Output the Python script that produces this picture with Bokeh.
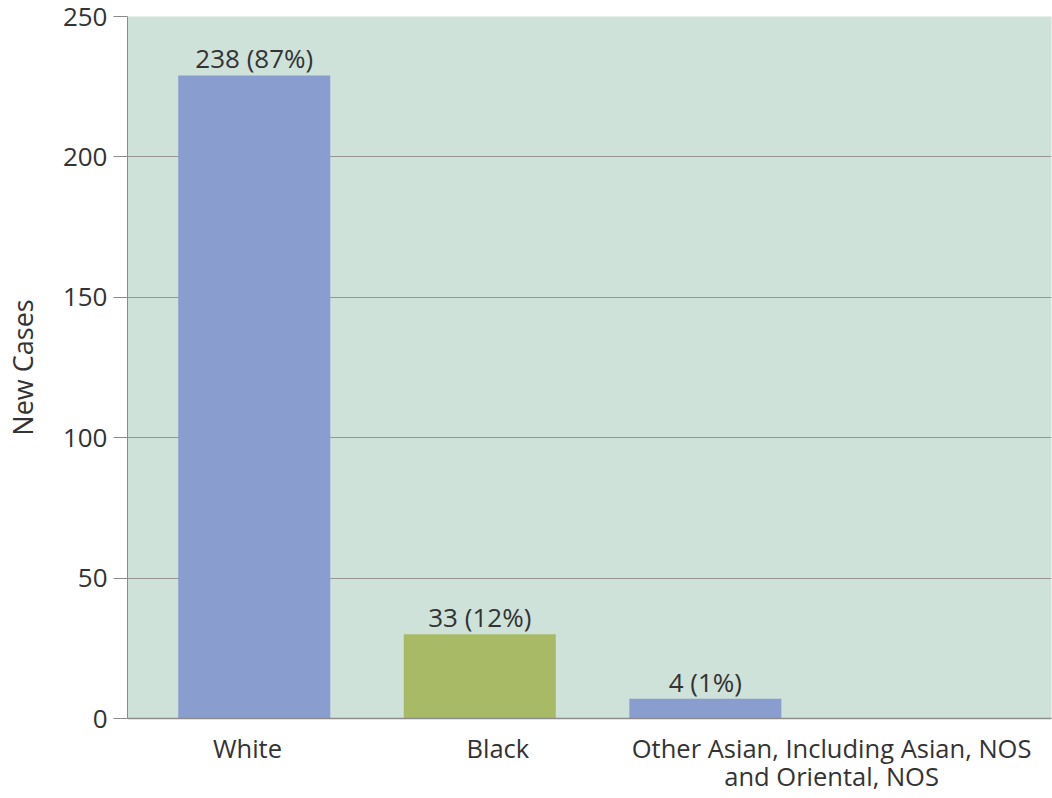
from bokeh.plotting import figure
from bokeh.models import (ColumnDataSource, Range1d, FixedTicker, CustomJSTickFormatter,
                          LabelSet)
from bokeh.core.properties import value
from bokeh.embed import file_html
from bokeh.resources import INLINE

# ---- data ----
categories = ["White", "Black", "Other Asian, Including Asian, NOS\nand Oriental, NOS"]
values = [229, 30, 7]
bar_labels = ["238 (87%)", "33 (12%)", "4 (1%)"]
bar_colors = ["#8A9DCF", "#A8BA66", "#8A9DCF"]
y_ticks = [0, 50, 100, 150, 200, 250]

FONT = "Open Sans"
TXT = "#333333"

idx = list(range(len(categories)))
src = ColumnDataSource(dict(x=idx, top=values, label=bar_labels, color=bar_colors))

p = figure(width=1052, height=798, output_backend="svg", toolbar_location=None,
           x_range=Range1d(-0.562, 3.535), y_range=Range1d(0, 250),
           min_border_left=127, min_border_top=16, min_border_right=1, min_border_bottom=80)

p.background_fill_color = "#CFE2DA"
p.border_fill_color = "white"
p.outline_line_color = None

p.vbar(x="x", top="top", width=0.674, color="color", source=src, line_color=None)

labels = LabelSet(x="x", y="top", text="label", source=src, text_align="center",
                  text_baseline="alphabetic", y_offset=7, text_font=value(FONT),
                  text_font_size="26px", text_color=TXT)
p.add_layout(labels)

# y axis
p.yaxis.ticker = FixedTicker(ticks=y_ticks)
p.yaxis.axis_label = "New Cases"
p.yaxis.axis_label_text_font = FONT
p.yaxis.axis_label_text_font_size = "27px"
p.yaxis.axis_label_text_font_style = "normal"
p.yaxis.axis_label_text_color = TXT
p.yaxis.axis_label_standoff = 19
p.yaxis.major_label_text_font = FONT
p.yaxis.major_label_text_font_size = "26px"
p.yaxis.major_label_text_color = TXT
p.yaxis.major_label_standoff = 6
p.yaxis.major_tick_out = 14
p.yaxis.major_tick_in = 0
p.yaxis.minor_tick_line_color = None
p.yaxis.major_tick_line_color = "#8C8C8C"
p.yaxis.axis_line_color = "#8C8C8C"

# x axis
label_shift = [-0.03, 0.08, 0.56]
x_tick_pos = [i + s for i, s in zip(idx, label_shift)]
p.xaxis.ticker = FixedTicker(ticks=x_tick_pos)
p.xaxis.formatter = CustomJSTickFormatter(
    args=dict(pos=x_tick_pos, names=categories),
    code="const i = pos.findIndex(t => Math.abs(t - tick) < 1e-6); return i >= 0 ? names[i] : '';")
p.xaxis.major_label_text_font = FONT
p.xaxis.major_label_text_font_size = "25.5px"
p.xaxis.major_label_text_color = TXT
p.xaxis.major_label_text_line_height = 0.85
p.xaxis.major_label_standoff = 6
p.xaxis.major_tick_line_color = None
p.xaxis.minor_tick_line_color = None
p.xaxis.axis_line_color = "#8C8C8C"
p.xaxis.axis_line_width = 1.5

p.xgrid.grid_line_color = None
p.ygrid.grid_line_color = "#969696"
p.ygrid.grid_line_width = 1.2

open("out.html", "w").write(file_html(p, INLINE))
